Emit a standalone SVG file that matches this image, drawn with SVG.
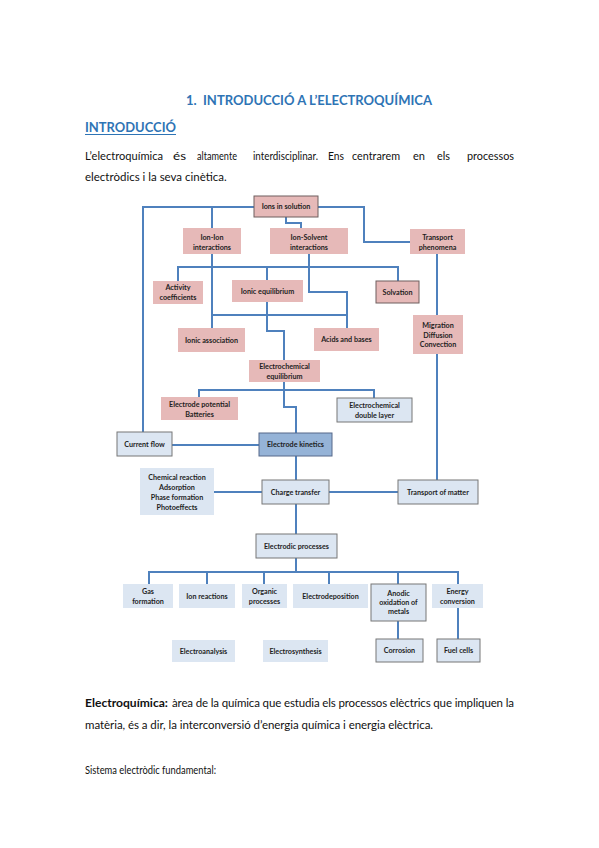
<svg xmlns="http://www.w3.org/2000/svg" width="599" height="848" viewBox="0 0 599 848">
<style>
.bg{fill:#ffffff}
.h{font-family:Lato,"Liberation Sans",sans-serif;font-weight:bold;fill:#2E74B5}
.b{font-family:Lato,"Liberation Sans",sans-serif;font-size:11.5px;fill:#111}
.bb{font-weight:bold}
.pk{fill:#E6B9B8}
.pkb{fill:#E6B9B8;stroke:#6f5f5f;stroke-width:1}
.lb{fill:#DCE6F2}
.lbb{fill:#DCE6F2;stroke:#777;stroke-width:1}
.dk{fill:#95B3D7;stroke:#56698a;stroke-width:1}
.t{font-family:Lato,"Liberation Sans",sans-serif;font-weight:bold;font-size:7.2px;fill:#1e1e1e;text-anchor:middle}
.c{fill:none;stroke:#4F81BD;stroke-width:2}
</style>
<rect class="bg" x="0" y="0" width="599" height="848"/>
<text class="h" x="186" y="105" font-size="14" textLength="246" lengthAdjust="spacingAndGlyphs">1.&#160; INTRODUCCIÓ A L’ELECTROQUÍMICA</text>
<text class="h" x="85" y="132" font-size="13" textLength="91" lengthAdjust="spacingAndGlyphs">INTRODUCCIÓ</text>
<line x1="85" y1="134.5" x2="176" y2="134.5" stroke="#2E74B5" stroke-width="1"/>
<g id="para1">
<text class="b" x="85" y="160" textLength="78" lengthAdjust="spacingAndGlyphs">L’electroquímica</text>
<text class="b" x="173" y="160" textLength="13" lengthAdjust="spacingAndGlyphs">és</text>
<text class="b" x="197" y="160" textLength="40" lengthAdjust="spacingAndGlyphs">altamente</text>
<text class="b" x="253" y="160" textLength="65" lengthAdjust="spacingAndGlyphs">interdisciplinar.</text>
<text class="b" x="328" y="160" textLength="16" lengthAdjust="spacingAndGlyphs">Ens</text>
<text class="b" x="352" y="160" textLength="48" lengthAdjust="spacingAndGlyphs">centrarem</text>
<text class="b" x="413" y="160" textLength="12" lengthAdjust="spacingAndGlyphs">en</text>
<text class="b" x="437" y="160" textLength="13" lengthAdjust="spacingAndGlyphs">els</text>
<text class="b" x="467" y="160" textLength="47" lengthAdjust="spacingAndGlyphs">processos</text>
<text class="b" x="85" y="181">electròdics i la seva cinètica.</text>
</g>

<g id="connectors">
<path class="c" d="M254,207 H143 V432"/>
<path class="c" d="M212,207 V228"/>
<path class="c" d="M286,217 V223 H301 V228"/>
<path class="c" d="M318,207 H364 V242 H410"/>
<path class="c" d="M437,254 V315"/>
<path class="c" d="M437,354 V480"/>
<path class="c" d="M212,254 V328"/>
<path class="c" d="M178,281 V267 H398 V281"/>
<path class="c" d="M267,267 V280"/>
<path class="c" d="M309,254 V292 H347 V328"/>
<path class="c" d="M212,315 H347"/>
<path class="c" d="M267,302 V331 H284 V360"/>
<path class="c" d="M199,397 V390 H374 V398"/>
<path class="c" d="M284,382 V407 H296 V433"/>
<path class="c" d="M172,445 H259"/>
<path class="c" d="M296,456 V480"/>
<path class="c" d="M214,492 H262"/>
<path class="c" d="M329,492 H398"/>
<path class="c" d="M296,504 V534"/>
<path class="c" d="M296,558 V572"/>
<path class="c" d="M149,584 V572 H458 V584"/>
<path class="c" d="M207,572 V584 M264,572 V584 M329,572 V584 M398,572 V584"/>
<path class="c" d="M398,621 V639"/>
<path class="c" d="M458,608 V639"/>
</g>

<g id="ions-solution"><rect class="pkb" x="254" y="196" width="64" height="21"/><text class="t" x="286" y="209">Ions in solution</text></g>
<g id="ion-ion"><rect class="pk" x="183" y="228" width="58" height="26"/><text class="t" x="212" y="239.5">Ion-Ion</text><text class="t" x="212" y="249.5">interactions</text></g>
<g id="ion-solvent"><rect class="pk" x="270" y="228" width="78" height="26"/><text class="t" x="309" y="239.5">Ion-Solvent</text><text class="t" x="309" y="249.5">interactions</text></g>
<g id="transport-phenomena"><rect class="pk" x="410" y="229" width="55" height="25"/><text class="t" x="437.5" y="240">Transport</text><text class="t" x="437.5" y="250">phenomena</text></g>
<g id="activity"><rect class="pk" x="153" y="281" width="50" height="23"/><text class="t" x="178" y="290">Activity</text><text class="t" x="178" y="300">coefficients</text></g>
<g id="ionic-equilibrium"><rect class="pk" x="232" y="280" width="71" height="22"/><text class="t" x="267.5" y="293.5">Ionic equilibrium</text></g>
<g id="solvation"><rect class="pkb" x="376" y="281" width="43" height="22"/><text class="t" x="397.5" y="294.5">Solvation</text></g>
<g id="ionic-association"><rect class="pk" x="178" y="328" width="67" height="24"/><text class="t" x="211.5" y="342.5">Ionic association</text></g>
<g id="acids-bases"><rect class="pk" x="314" y="328" width="65" height="23"/><text class="t" x="346.5" y="342">Acids and bases</text></g>
<g id="migration"><rect class="pk" x="413" y="315" width="50" height="39"/><text class="t" x="438" y="328">Migration</text><text class="t" x="438" y="337.5">Diffusion</text><text class="t" x="438" y="347">Convection</text></g>
<g id="electrochemical-equilibrium"><rect class="pk" x="249" y="360" width="71" height="22"/><text class="t" x="284.5" y="369">Electrochemical</text><text class="t" x="284.5" y="379">equilibrium</text></g>
<g id="electrode-potential"><rect class="pk" x="161" y="397" width="77" height="23"/><text class="t" x="199.5" y="406.5">Electrode potential</text><text class="t" x="199.5" y="417">Batteries</text></g>
<g id="double-layer"><rect class="lbb" x="337" y="398" width="75" height="24"/><text class="t" x="374.5" y="407.5">Electrochemical</text><text class="t" x="374.5" y="417.5">double layer</text></g>
<g id="current-flow"><rect class="lbb" x="117" y="432" width="55" height="24"/><text class="t" x="144.5" y="446.5">Current flow</text></g>
<g id="electrode-kinetics"><rect class="dk" x="259" y="433" width="73" height="23"/><text class="t" x="295.5" y="447">Electrode kinetics</text></g>
<g id="chemical-reaction"><rect class="lb" x="140" y="468" width="74" height="47"/><text class="t" x="177" y="480">Chemical reaction</text><text class="t" x="177" y="490">Adsorption</text><text class="t" x="177" y="500">Phase formation</text><text class="t" x="177" y="509.5">Photoeffects</text></g>
<g id="charge-transfer"><rect class="lbb" x="262" y="480" width="67" height="24"/><text class="t" x="295.5" y="494.5">Charge transfer</text></g>
<g id="transport-matter"><rect class="lbb" x="398" y="480" width="80" height="24"/><text class="t" x="438" y="494.5">Transport of matter</text></g>
<g id="electrodic-processes"><rect class="lbb" x="256" y="534" width="81" height="24"/><text class="t" x="296.5" y="548.5">Electrodic processes</text></g>
<g id="gas-formation"><rect class="lb" x="123" y="584" width="50" height="24"/><text class="t" x="148" y="594">Gas</text><text class="t" x="148" y="604">formation</text></g>
<g id="ion-reactions"><rect class="lb" x="179" y="584" width="56" height="24"/><text class="t" x="207" y="598.5">Ion reactions</text></g>
<g id="organic-processes"><rect class="lb" x="242" y="584" width="45" height="24"/><text class="t" x="264.5" y="594">Organic</text><text class="t" x="264.5" y="604">processes</text></g>
<g id="electrodeposition"><rect class="lb" x="293" y="584" width="75" height="24"/><text class="t" x="330.5" y="598.5">Electrodeposition</text></g>
<g id="anodic-oxidation"><rect class="lbb" x="371" y="584" width="55" height="37"/><text class="t" x="398.5" y="595.5">Anodic</text><text class="t" x="398.5" y="605">oxidation of</text><text class="t" x="398.5" y="614">metals</text></g>
<g id="energy-conversion"><rect class="lb" x="432" y="584" width="51" height="24"/><text class="t" x="457.5" y="594">Energy</text><text class="t" x="457.5" y="604">conversion</text></g>
<g id="electroanalysis"><rect class="lb" x="172" y="640" width="63" height="22"/><text class="t" x="203.5" y="653.5">Electroanalysis</text></g>
<g id="electrosynthesis"><rect class="lb" x="263" y="640" width="65" height="22"/><text class="t" x="295.5" y="653.5">Electrosynthesis</text></g>
<g id="corrosion"><rect class="lbb" x="376" y="639" width="47" height="23"/><text class="t" x="399.5" y="653">Corrosion</text></g>
<g id="fuel-cells"><rect class="lbb" x="437" y="639" width="43" height="23"/><text class="t" x="458.5" y="653">Fuel cells</text></g>

<text class="b bb" x="85" y="707" textLength="83" lengthAdjust="spacingAndGlyphs">Electroquímica:</text>
<text class="b" x="172" y="707" textLength="342" lengthAdjust="spacing">àrea de la química que estudia els processos elèctrics que impliquen la</text>
<text class="b" x="85" y="729" textLength="348" lengthAdjust="spacing">matèria, és a dir, la interconversió d’energia química i energia elèctrica.</text>
<text class="b" x="85" y="774" textLength="131" lengthAdjust="spacingAndGlyphs">Sistema electròdic fundamental:</text>
</svg>
